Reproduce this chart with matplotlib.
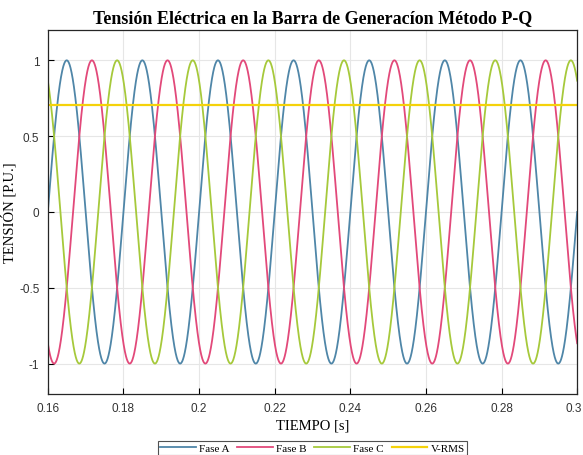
import numpy as np
import matplotlib
matplotlib.use('Agg')
import matplotlib.pyplot as plt
import matplotlib.transforms as mtransforms

# waveform parameters
phase_names = ["Fase A", "Fase B", "Fase C"]
phase_amplitude = [1.0, 1.0, 1.0]
phase_angle_deg = [0.0, -120.0, 120.0]
frequency_hz = 50.0
v_rms = 0.707
t_start, t_end = 0.16, 0.30

colors = ["#4f86a8", "#e2497a", "#a6c93b"]
rms_color = "#f5d20a"

xticks = [0.16, 0.18, 0.2, 0.22, 0.24, 0.26, 0.28, 0.3]
xticklabels = ["0.16", "0.18", "0.2", "0.22", "0.24", "0.26", "0.28", "0.3"]
yticks = [-1, -0.5, 0, 0.5, 1]
yticklabels = ["-1", "-0.5", "0", "0.5", "1"]

t = np.linspace(t_start, t_end, 3000)

fig = plt.figure(figsize=(5.83, 4.56), dpi=100)
ax = fig.add_axes([0.082, 0.134, 0.908, 0.798])

for name, amp, ang, c in zip(phase_names, phase_amplitude, phase_angle_deg, colors):
    y = amp * np.sin(2 * np.pi * frequency_hz * t + np.deg2rad(ang))
    ax.plot(t, y, color=c, linewidth=1.3, label=name)
ax.plot([t_start, t_end], [v_rms, v_rms], color=rms_color, linewidth=1.6, label="V-RMS")

ax.set_xlim(t_start, t_end)
ax.set_ylim(-1.2, 1.2)
ax.set_xticks(xticks)
ax.set_xticklabels(xticklabels, fontfamily="Liberation Sans", fontsize=8.5, color="#333333")
ax.set_yticks(yticks)
ax.set_yticklabels(yticklabels, fontfamily="Liberation Sans", fontsize=8.5, color="#333333")
ax.tick_params(direction="in", length=4, width=0.8, top=False, right=False, pad=6)
ax.grid(True, color="#e6e6e6", linewidth=0.8)
ax.set_axisbelow(True)
for s in ax.spines.values():
    s.set_linewidth(0.9)
    s.set_color("#262626")

# nudge the last x tick label so it stays inside the figure
last = ax.get_xticklabels()[-1]
last.set_transform(last.get_transform() +
                   mtransforms.ScaledTranslation(-3 / 100, 0, fig.dpi_scale_trans))

ax.set_title("Tensión Eléctrica en la Barra de Generacíon Método P-Q",
             fontfamily="Liberation Serif", fontsize=13, fontweight="bold", pad=6)
ax.set_xlabel("TIEMPO [s]", fontfamily="Liberation Serif", fontsize=10.5, labelpad=3)
ax.set_ylabel("TENSIÓN [P.U.]", fontfamily="Liberation Serif", fontsize=10.5, labelpad=2)

leg = ax.legend(loc="upper center", bbox_to_anchor=(0.5, -0.13), ncol=4,
                prop={"family": "Liberation Serif", "size": 8},
                frameon=True, fancybox=False, edgecolor="#262626",
                handlelength=3.2, columnspacing=0.7, handletextpad=0.3,
                borderpad=0.2, borderaxespad=0)
leg.get_frame().set_linewidth(0.8)

fig.savefig("out.png", dpi=100)
